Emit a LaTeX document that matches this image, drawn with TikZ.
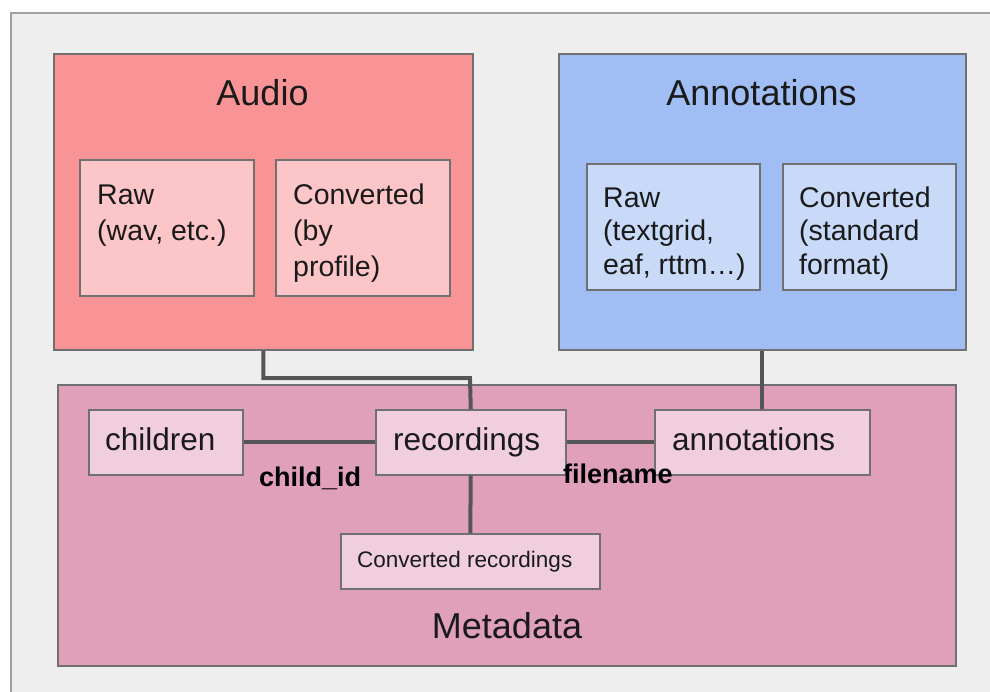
\documentclass[tikz,border=0pt]{standalone}
\usepackage{fontspec}
\setmainfont{Liberation Sans}
\definecolor{pagebg}{HTML}{EEEEEE}
\definecolor{framegray}{HTML}{A0A0A0}
\definecolor{boxline}{HTML}{707070}
\definecolor{connline}{HTML}{555555}
\definecolor{inktext}{HTML}{1A1A1A}
\definecolor{audiofill}{HTML}{F89496}
\definecolor{audioinner}{HTML}{FCC6C8}
\definecolor{annofill}{HTML}{A0BEF4}
\definecolor{annoinner}{HTML}{C8DAF8}
\definecolor{metafill}{HTML}{E0A0BA}
\definecolor{metainner}{HTML}{F0CEDE}
\newcommand\titlesize{\fontsize{36}{40}\selectfont}
\newcommand\itemsize{\fontsize{28.5}{36}\selectfont}
\newcommand\tablesize{\fontsize{31.5}{36}\selectfont}
\newcommand\smallsize{\fontsize{22.5}{26}\selectfont}
\newcommand\keysize{\fontsize{27}{30}\selectfont\bfseries}
\tikzset{
  panel/.style={draw=boxline, line width=1.5pt, anchor=north west, inner sep=0pt},
  conn/.style={draw=connline, line width=4pt},
  label/.style={anchor=base west, inner sep=0pt, text=inktext},
  title/.style={anchor=base, inner sep=0pt, text=inktext, font=\titlesize},
}
\newcommand\lines[1]{\parbox[t]{200pt}{\raggedright #1}}
\begin{document}
\begin{tikzpicture}[x=1pt, y=-1pt]
\useasboundingbox (0,0) rectangle (990,691);
\fill[white] (0,0) rectangle (990,691);
% outer frame
\draw[framegray, line width=2.5pt, fill=pagebg] (11,13) rectangle (1000,705);

% Audio group
\node[panel, fill=audiofill, minimum width=419pt, minimum height=296pt] (audio) at (53,53) {};
\node[title] (audiot) at (262.5,105) {Audio};
\node[panel, fill=audioinner, minimum width=174pt, minimum height=136pt] (araw) at (79,159) {};
\node[panel, fill=audioinner, minimum width=174pt, minimum height=136pt] (aconv) at (275,159) {};
\node[label, font=\itemsize] (arawt) at (97,204) {\lines{Raw\\(wav, etc.)}};
\node[label, font=\itemsize] (aconvt) at (293,204) {\lines{Converted\\(by\\profile)}};

% Annotations group
\node[panel, fill=annofill, minimum width=407pt, minimum height=296pt] (anno) at (558,53) {};
\node[title] (annot) at (761.5,105) {Annotations};
\node[panel, fill=annoinner, minimum width=173pt, minimum height=126pt] (nraw) at (586,163) {};
\node[panel, fill=annoinner, minimum width=173pt, minimum height=126pt] (nconv) at (782,163) {};
\node[label, font=\itemsize, text=inktext] (nrawt) at (603,207) {\fontsize{28.5}{33.5}\selectfont\lines{Raw\\(textgrid,\\eaf, rttm…)}};
\node[label, font=\itemsize, text=inktext] (nconvt) at (799,207) {\fontsize{28.5}{33.5}\selectfont\lines{Converted\\(standard\\format)}};

% Metadata group
\node[panel, fill=metafill, minimum width=898pt, minimum height=281pt] (meta) at (57,384) {};
\node[title] (metat) at (507,638) {Metadata};
\node[panel, fill=metainner, minimum width=154pt, minimum height=65pt] (children) at (88,409) {};
\node[panel, fill=metainner, minimum width=190pt, minimum height=65pt] (recordings) at (375,409) {};
\node[panel, fill=metainner, minimum width=215pt, minimum height=65pt] (annotations) at (654,409) {};
\node[panel, fill=metainner, minimum width=259pt, minimum height=55pt] (convrec) at (340,533) {};
\node[label, font=\tablesize] (childrent) at (105,450) {children};
\node[label, font=\tablesize] (recordingst) at (393,450) {recordings};
\node[label, font=\tablesize] (annotationst) at (672,450) {annotations};
\node[label, font=\smallsize] (convrect) at (357,567) {Converted recordings};

% connectors
\coordinate (bend) at (470,378);
\draw[conn] (audio.south) |- (bend) -- (recordings.north);
\draw[conn] (anno.south) -- (annotations.north);
\draw[conn] (children.east) -- (recordings.west);
\draw[conn] (recordings.east) -- (annotations.west);
\draw[conn] (recordings.south) -- (convrec.north);

% join keys
\node[label, font=\keysize, text=black] (childid) at (259,486) {child\_id};
\node[label, font=\keysize, text=black] (filename) at (563,483) {filename};
\end{tikzpicture}
\end{document}
